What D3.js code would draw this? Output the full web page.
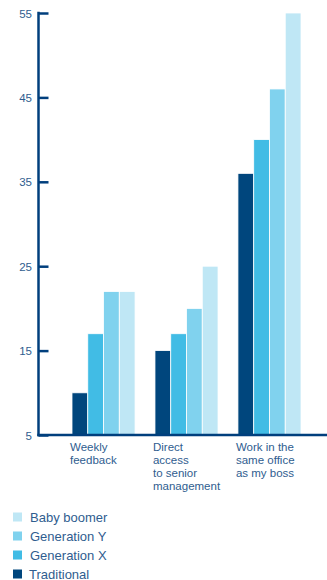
<!DOCTYPE html>
<html>
<head>
<meta charset="utf-8">
<script src="https://cdn.jsdelivr.net/npm/d3@7"></script>
<style>
html,body{margin:0;padding:0;background:#fff;}
svg{display:block;font-family:"Liberation Sans",Arial,Helvetica,sans-serif;}
</style>
</head>
<body>
<svg id="chart" width="327" height="580"></svg>
<script>
const categories = [["Weekly","feedback"],["Direct","access","to senior","management"],["Work in the","same office","as my boss"]];
const seriesNames = ["Traditional","Generation X","Generation Y","Baby boomer"];
const traditional = [10, 15, 36];
const generationX = [17, 17, 40];
const generationY = [22, 20, 46];
const babyBoomer = [22, 25, 55];
const yTicks = [5, 15, 25, 35, 45, 55];
const colors = ["#00467d","#41bce5","#80d2ee","#bfe7f5"];

const series = [traditional, generationX, generationY, babyBoomer];
const svg = d3.select("#chart");
const axisColor = "#003f7d";
const textColor = "#2f5d8f";

const y = d3.scaleLinear().domain([5,55]).range([435,13]);
const x0 = d3.scaleBand().domain(d3.range(categories.length)).range([72,301]).paddingInner(0.24).paddingOuter(0);
const x1 = d3.scaleBand().domain(d3.range(seriesNames.length)).range([0, x0.bandwidth()]).padding(0);

// bars
const g = svg.append("g");
categories.forEach((c, ci) => {
  series.forEach((s, si) => {
    g.append("rect")
      .attr("x", x0(ci) + x1(si))
      .attr("y", y(s[ci]))
      .attr("width", x1.bandwidth())
      .attr("height", y(5) - y(s[ci]))
      .attr("fill", colors[si])
      .attr("stroke", "#fff")
      .attr("stroke-width", 0.8);
  });
});

// y axis
const yAxis = d3.axisRight(y).tickValues(yTicks).tickSize(10).tickFormat("");
const ya = svg.append("g").attr("transform","translate(38.5,0)").call(yAxis);
ya.select(".domain").remove();
ya.selectAll(".tick line").attr("stroke", axisColor).attr("stroke-width", 2.5);
svg.append("line").attr("x1",38.5).attr("x2",38.5).attr("y1",y(55)-1.2).attr("y2",y(5)+1.2)
  .attr("stroke",axisColor).attr("stroke-width",2.5);
svg.append("line").attr("x1",37.3).attr("x2",327).attr("y1",y(5)).attr("y2",y(5))
  .attr("stroke",axisColor).attr("stroke-width",2.5);
svg.selectAll(".ytl").data(yTicks).enter().append("text")
  .attr("x",32).attr("y",d=>y(d)+4.5).attr("text-anchor","end")
  .attr("font-size","11.5px").attr("fill",textColor).text(d=>d);

// category labels
categories.forEach((lines, ci) => {
  const t = svg.append("text").attr("x", x0(ci) - 2).attr("y", 451)
    .attr("font-size","11.5px").attr("fill",textColor);
  lines.forEach((l, li) => {
    t.append("tspan").attr("x", x0(ci) - 2).attr("dy", li === 0 ? 0 : 13).text(l);
  });
});

// legend
const legendOrder = [3,2,1,0];
legendOrder.forEach((si, i) => {
  const cy = 517 + i * 19;
  svg.append("rect").attr("x",13).attr("y",cy-4.5).attr("width",9).attr("height",9).attr("fill",colors[si]);
  svg.append("text").attr("x", si === 0 ? 29 : 30).attr("y", cy + 4.5)
    .attr("font-size","13px").attr("fill",textColor).text(seriesNames[si]);
});
</script>
</body>
</html>
